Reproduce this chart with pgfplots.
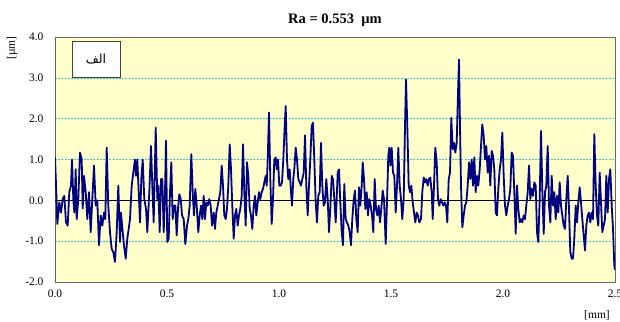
\documentclass[border=0pt]{standalone}
\usepackage{fontspec}
\setmainfont{Liberation Serif}
\newfontfamily\arabicfont[Script=Arabic]{DejaVu Sans}
\TeXXeTstate=1
\usepackage{pgfplots}
\pgfplotsset{compat=1.18}
\definecolor{bgy}{RGB}{255,255,204}
\definecolor{gridc}{RGB}{51,204,204}
\definecolor{navyl}{RGB}{0,0,128}
\begin{document}
\begin{tikzpicture}
\begin{axis}[
  scale only axis, width=560pt, height=245pt,
  xmin=0, xmax=2.5, ymin=-2, ymax=4,
  xtick={0,0.5,1,1.5,2,2.5},
  ytick={-2,-1,0,1,2,3,4},
  major tick length=0pt,
  /pgf/number format/assume math mode=true,
  /pgf/number format/fixed, /pgf/number format/fixed zerofill, /pgf/number format/precision=1,
  tick label style={font=\fontsize{11.5}{13}\selectfont},
  yticklabel style={xshift=-8pt},
  xticklabel style={yshift=-4pt},
  axis background/.style={fill=bgy},
  axis line style={draw=gray!80!black, line width=0.8pt},
  ymajorgrids, grid style={draw=gridc, dash pattern=on 2pt off 1.2pt, line width=0.6pt},
  clip=true,
]
\addplot[black, line width=0.7pt, forget plot] coordinates {(0,0) (2.5,0)};
\addplot[navyl, line width=1.8pt, line join=round] coordinates {
(0.0000,1.05) (0.0045,0.40) (0.0103,-0.58) (0.0192,-0.05) (0.0268,-0.30) (0.0344,0.03) (0.0415,0.11) (0.0491,-0.54) (0.0567,-0.62) (0.0638,0.20) (0.0714,0.36) (0.0759,1.00) (0.0817,0.03) (0.0862,-0.30) (0.0924,0.76) (0.0969,-0.46) (0.1040,0.03) (0.1116,1.17) (0.1192,1.00) (0.1237,-0.20) (0.1295,0.60) (0.1371,0.20) (0.1442,-0.46) (0.1518,0.20) (0.1594,-0.78) (0.1665,0.03) (0.1741,0.85) (0.1817,-0.13) (0.1888,0.00) (0.1964,-1.10) (0.2040,-0.37) (0.2112,-0.62) (0.2188,-0.30) (0.2246,-0.46) (0.2308,1.29) (0.2379,-0.13) (0.2455,-0.78) (0.2531,-1.19) (0.2603,-1.27) (0.2679,-1.51) (0.2754,-0.78) (0.2826,0.36) (0.2902,-1.02) (0.2946,-0.30) (0.3022,-0.78) (0.3080,-1.10) (0.3156,-1.43) (0.3228,-0.94) (0.3290,-0.70) (0.3348,-0.46) (0.3424,0.36) (0.3496,0.68) (0.3571,1.00) (0.3616,0.60) (0.3674,1.00) (0.3737,0.20) (0.3795,-0.54) (0.3853,0.52) (0.3915,1.00) (0.3987,0.03) (0.4063,-0.21) (0.4121,-0.78)
(0.4210,0.20) (0.4286,1.33) (0.4344,0.36) (0.4406,-0.54) (0.4496,1.78) (0.4567,0.03) (0.4612,0.36) (0.4674,-0.78) (0.4732,0.52) (0.4790,0.52) (0.4853,-0.78) (0.4911,0.20) (0.4955,1.46) (0.5013,-1.02) (0.5076,-0.94) (0.5134,0.20) (0.5192,0.93) (0.5254,-0.46) (0.5313,-0.13) (0.5371,-0.13) (0.5433,-0.86) (0.5491,-0.21) (0.5549,0.15) (0.5612,0.03) (0.5670,-0.37) (0.5746,-0.46) (0.5817,-1.07) (0.5893,-0.62) (0.5951,-0.46) (0.6013,-0.13) (0.6085,1.13) (0.6147,0.20) (0.6205,-0.37) (0.6263,0.28) (0.6326,-0.13) (0.6397,-0.78) (0.6460,-0.37) (0.6518,-0.13) (0.6576,-0.46) (0.6638,0.11) (0.6696,-0.46) (0.6754,-0.05) (0.6817,-0.13) (0.6888,0.03) (0.6951,-0.13) (0.7009,-0.62) (0.7085,-0.30) (0.7143,-0.70) (0.7201,-0.30) (0.7263,-0.13) (0.7321,0.03) (0.7379,0.20) (0.7442,0.85) (0.7500,0.36) (0.7558,-0.37) (0.7621,-0.46) (0.7679,-0.21) (0.7737,0.36) (0.7799,1.37) (0.7857,0.76) (0.7915,-0.13) (0.7978,-0.94) (0.8036,-0.37) (0.8094,-0.21) (0.8156,-0.62) (0.8214,-0.37) (0.8272,-0.21)
(0.8335,0.11) (0.8393,1.37) (0.8451,0.20) (0.8513,-0.62) (0.8571,0.93) (0.8629,0.60) (0.8692,-0.21) (0.8750,-0.37) (0.8808,-0.70) (0.8871,-0.13) (0.8929,0.11) (0.8987,-0.37) (0.9049,-0.05) (0.9107,0.20) (0.9165,0.03) (0.9228,0.20) (0.9286,0.28) (0.9344,0.44) (0.9406,0.60) (0.9451,0.36) (0.9496,1.00) (0.9554,2.15) (0.9612,0.52) (0.9674,-0.58) (0.9732,0.03) (0.9790,1.00) (0.9853,1.05) (0.9897,0.76) (0.9955,1.00) (1.0013,0.36) (1.0076,0.36) (1.0134,0.44) (1.0192,1.00) (1.0254,1.82) (1.0299,2.31) (1.0357,1.00) (1.0415,0.52) (1.0478,0.76) (1.0536,0.20) (1.0580,-0.13) (1.0638,0.52) (1.0683,0.76) (1.0746,1.29) (1.0804,1.00) (1.0862,0.52) (1.0924,0.44) (1.0982,0.36) (1.1040,0.52) (1.1103,0.68) (1.1161,1.59) (1.1219,0.36) (1.1281,-0.37) (1.1339,0.36) (1.1397,1.00) (1.1460,1.82) (1.1518,1.90) (1.1576,1.00) (1.1638,-0.05) (1.1696,-0.54) (1.1754,0.11) (1.1817,0.20) (1.1875,1.41) (1.1933,0.36) (1.1996,-0.13) (1.2054,-0.05) (1.2112,0.52) (1.2174,0.03) (1.2232,-0.78) (1.2290,-0.21) (1.2353,0.60) (1.2411,0.52) (1.2469,0.03) (1.2531,-0.54)
(1.2621,0.68) (1.2679,0.76) (1.2737,-0.05) (1.2799,-0.78) (1.2857,-1.10) (1.2915,0.40) (1.2978,-0.46) (1.3036,-0.54) (1.3094,-0.62) (1.3156,-0.78) (1.3214,-1.10) (1.3272,-0.46) (1.3335,0.03) (1.3393,0.24) (1.3451,-0.46) (1.3513,-0.78) (1.3571,0.32) (1.3629,-0.13) (1.3692,0.36) (1.3737,0.93) (1.3795,0.52) (1.3853,-0.21) (1.3915,0.20) (1.3973,-0.37) (1.4031,0.03) (1.4094,-0.13) (1.4152,-0.37) (1.4210,-0.78) (1.4272,0.52) (1.4330,-0.21) (1.4388,-0.37) (1.4451,-0.13) (1.4509,-0.54) (1.4567,-0.21) (1.4629,0.24) (1.4688,0.03) (1.4763,-1.07) (1.4821,-0.05) (1.4879,1.09) (1.4924,1.29) (1.4969,0.85) (1.5031,1.29) (1.5089,0.68) (1.5147,0.60) (1.5210,-0.30) (1.5268,0.36) (1.5326,1.29) (1.5388,0.36) (1.5446,0.03) (1.5504,-0.46) (1.5567,0.03) (1.5625,1.82) (1.5670,2.96) (1.5728,1.82) (1.5790,0.36) (1.5848,0.20) (1.5906,0.36) (1.5969,-0.05) (1.6027,-0.30) (1.6085,-0.54) (1.6147,-0.30) (1.6205,-0.37) (1.6263,-0.54) (1.6339,-0.46) (1.6397,0.20) (1.6460,0.56) (1.6518,0.44) (1.6576,0.52) (1.6638,0.36) (1.6696,0.52) (1.6754,0.56) (1.6817,0.20)
(1.6862,-0.46) (1.6920,0.36) (1.6977,1.29) (1.7040,0.93) (1.7098,0.03) (1.7156,-0.13) (1.7219,0.03) (1.7277,-0.05) (1.7335,-0.13) (1.7397,-0.05) (1.7455,-0.13) (1.7513,-0.54) (1.7576,0.52) (1.7634,0.68) (1.7692,2.02) (1.7754,1.25) (1.7813,1.41) (1.7871,1.17) (1.7933,1.41) (1.7991,2.63) (1.8036,3.45) (1.8080,1.82) (1.8125,0.36) (1.8183,-0.66) (1.8246,-0.37) (1.8304,-0.13) (1.8362,-0.05) (1.8424,0.36) (1.8482,0.93) (1.8540,0.52) (1.8603,1.00) (1.8661,0.36) (1.8719,1.05) (1.8781,0.20) (1.8839,0.60) (1.8897,0.36) (1.8960,0.76) (1.9018,1.33) (1.9076,1.86) (1.9138,1.58) (1.9196,1.00) (1.9254,1.33) (1.9317,0.68) (1.9375,1.09) (1.9433,0.36) (1.9496,1.21) (1.9554,1.09) (1.9612,0.76) (1.9674,-0.30) (1.9732,-0.37) (1.9790,0.28) (1.9853,0.76) (1.9911,1.00) (1.9969,1.66) (2.0031,0.60) (2.0089,-0.13) (2.0147,-0.37) (2.0210,-0.13) (2.0268,0.03) (2.0326,0.28) (2.0388,1.17) (2.0446,1.09) (2.0504,0.20) (2.0567,-0.82) (2.0625,0.36) (2.0683,-0.21) (2.0746,-0.54) (2.0804,-0.46) (2.0862,-0.54) (2.0924,-0.37) (2.0982,-0.46) (2.1040,-0.13) (2.1103,0.20) (2.1161,0.85)
(2.1219,0.03) (2.1281,0.28) (2.1339,0.11) (2.1397,0.44) (2.1460,0.36) (2.1518,-0.78) (2.1576,-1.02) (2.1638,0.03) (2.1696,1.70) (2.1754,0.28) (2.1817,-0.82) (2.1875,0.20) (2.1933,0.36) (2.1996,1.33) (2.2054,-0.13) (2.2112,-0.54) (2.2174,0.60) (2.2232,-0.13) (2.2290,0.20) (2.2353,-0.46) (2.2411,0.11) (2.2469,-0.30) (2.2531,0.44) (2.2589,-0.13) (2.2647,-0.37) (2.2710,-0.62) (2.2768,-0.70) (2.2826,0.03) (2.2888,0.60) (2.2946,-0.21) (2.3004,-1.27) (2.3067,-1.43) (2.3125,-1.43) (2.3183,-0.94) (2.3246,-0.13) (2.3304,-0.54) (2.3362,-0.05) (2.3424,0.32) (2.3482,-0.05) (2.3540,-0.46) (2.3603,-0.86) (2.3661,-1.23) (2.3719,-0.62) (2.3781,-0.37) (2.3839,-0.30) (2.3897,-0.54) (2.3960,-0.30) (2.4018,-0.46) (2.4076,1.62) (2.4138,0.36) (2.4196,-0.37) (2.4254,-0.62) (2.4317,0.68) (2.4375,-0.05) (2.4433,-0.78) (2.4496,-0.62) (2.4554,-0.46) (2.4612,0.60) (2.4674,-0.30) (2.4732,0.52) (2.4790,0.76) (2.4853,-0.13) (2.4911,-0.70) (2.4969,-1.60) (2.5000,-1.70)
};
\end{axis}
\node[font=\bfseries\fontsize{14.5}{16}\selectfont, anchor=base] at ([yshift=13pt]current axis.north) {Ra = 0.553 \ µm};
\node[font=\fontsize{11.5}{13}\selectfont, rotate=90] at ([xshift=-43pt,yshift=-11pt]current axis.north west) {[µm]};
\node[font=\fontsize{11.5}{13}\selectfont] at ([xshift=-18pt,yshift=-33pt]current axis.south east) {[mm]};
\node[draw=black!75, fill=white, line width=0.6pt, minimum width=48pt, minimum height=36pt, font=\arabicfont\fontsize{12.5}{14}\selectfont] at ([xshift=41pt,yshift=-22pt]current axis.north west) {\beginR الف\endR};
\pgfresetboundingbox
\path[use as bounding box] ([xshift=-55pt,yshift=-40pt]current axis.south west) rectangle ([xshift=5pt,yshift=37pt]current axis.north east);
\end{tikzpicture}
\end{document}
